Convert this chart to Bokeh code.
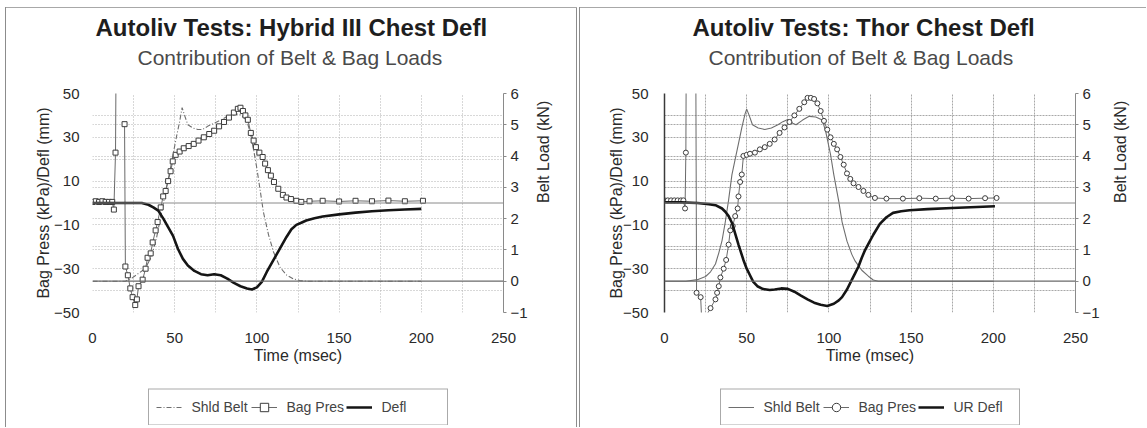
import math
from bokeh.plotting import figure
from bokeh.models import (Range1d, LinearAxis, Legend, LegendItem, Span, Title,
                          Grid, FixedTicker)
from bokeh.layouts import row, column
from bokeh.embed import file_html
from bokeh.resources import INLINE

nan = float("nan")

# ---------------- data ----------------
titles = ["Autoliv Tests: Hybrid III Chest Defl", "Autoliv Tests: Thor Chest Defl"]
subtitle = "Contribution of Belt & Bag Loads"
x_ticks = [0, 50, 100, 150, 200, 250]
left_ticks = [-50, -30, -10, 10, 30, 50]
right_ticks = [-1, 0, 1, 2, 3, 4, 5, 6]
legend_names_L = ["Shld Belt", "Bag Pres", "Defl"]
legend_names_R = ["Shld Belt", "Bag Pres", "UR Defl"]

# Hybrid III (left panel)
tL_belt = [0, 20, 24, 28, 32, 36, 39, 42, 45, 47, 49, 51, 53, 54.5, 56, 58, 61, 64, 67,
           70, 74, 78, 82, 86, 89, 92, 94, 96, 98, 100, 102, 104, 107, 110, 114, 118,
           122, 126, 130, 200]
kL_belt = [0, 0, 0.1, 0.25, 0.4, 0.8, 1.4, 2.2, 3.0, 3.5, 4.05, 4.6, 5.1, 5.55, 5.3,
           5.0, 4.9, 4.85, 4.85, 4.95, 5.05, 5.15, 5.27, 5.32, 5.35, 5.25, 5.1, 4.75,
           4.2, 3.6, 2.9, 2.2, 1.5, 0.95, 0.45, 0.2, 0.08, 0.02, 0, 0]

tL_bag = [0, 2, 4, 6, 8, 10, 12, 13, 14, 14.3, nan, 19.5, 20, 21.5, 23, 24.4, 26, 27,
          28, 30.5, 32.3, 33.5, 35.4, 36.6, 38.4, 39.6, 41.5, 43, 44.5, 46, 47.5, 48.8,
          50.6, 53, 55.5, 58.5, 61.6, 64.5, 67.7, 71, 74, 77, 80, 83, 86, 88.4, 90,
          91.5, 93, 94.5, 96.3, 98, 99.4, 101.5, 103.5, 105, 106.7, 108.5, 110.4, 113,
          115.8, 118, 120.7, 124, 127, 132, 140, 150, 160, 170, 180, 190, 201]
pL_bag = [0.5, 0.8, 0.5, 0.8, 0.5, 0.5, 0.5, -3, 23, 60, nan, 36, -29, -33, -39, -43,
          -46.6, -44, -38, -35, -30, -25, -23, -18, -12.5, -8.7, -2, 3, 5.5, 10, 14.5,
          19, 22, 23.5, 25, 26, 27, 28.5, 30, 31.5, 33, 35, 37, 39, 41.3, 43, 43.5, 42,
          40, 38, 32, 28.5, 25.5, 23, 21, 18, 15, 12.5, 9.6, 6.5, 3.7, 2.5, 1.8, 1,
          0.5, 0.8, 1, 0.7, 1, 0.8, 1.1, 0.8, 1]

tL_defl = [0, 10, 20, 30, 34, 37, 40, 43, 46, 49, 52, 55, 58, 62, 66, 70, 74, 78, 82,
           86, 90, 94, 97, 100, 103, 106, 109, 112, 115, 118, 121, 124, 127, 130, 135,
           140, 150, 160, 170, 180, 190, 200]
dL_defl = [0, 0, 0, 0, -0.8, -2, -3.5, -7, -11, -15, -21, -25.5, -28.5, -31, -32.5,
           -33, -32.5, -33, -34.5, -36.5, -38, -39, -39.5, -38.5, -36, -31.5, -27.5,
           -23.5, -19.5, -15.5, -12, -10, -9, -8, -7, -6.2, -5.2, -4.4, -3.8, -3.3, -3,
           -2.7]

# Thor (right panel)
tR_belt = [0, 13, 20, 25, 28, 31, 33, 35, 37, 39, 41, 43, 45, 47, 49, 50, 51.5, 53.5,
           57, 61, 65, 69, 72, 75, 78, 80, 84, 88, 92, 96, 98, 101, 103, 106, 108, 111,
           114, 116, 120, 124, 127, 130, 200]
kR_belt = [0, 0, 0.05, 0.15, 0.3, 0.55, 0.9, 1.3, 1.9, 2.6, 3.4, 3.9, 4.4, 4.9, 5.35,
           5.5, 5.3, 5.0, 4.9, 4.85, 4.9, 5.0, 5.1, 5.17, 5.05, 5.0, 5.15, 5.27, 5.25,
           5.15, 4.8, 4.05, 3.4, 2.55, 1.9, 1.28, 0.85, 0.64, 0.35, 0.16, 0.04, 0, 0]

tR_bag = [0, 2, 4, 6, 8, 10, 11.5, 12.5, 13, 13.5, 18.8, 19.5, 22, 23, 25, 28, 31, 32,
          33, 34, 36, 37.5, 39, 40, 41.5, 43, 44.5, 45, 46, 47, 48, 50, 52, 55, 58, 61,
          64, 67, 70, 73, 76, 79, 82, 85, 87, 89, 91, 93, 95, 97, 99, 101, 103, 105,
          107, 109, 111, 113, 115, 118, 121, 124, 128, 135, 145, 155, 165, 175, 185,
          195, 202]
pR_bag = [1.2, 1.2, 1.2, 1.2, 1.2, 1.2, 1.2, -2.5, 23, 120, 120, -41, -43, -60, -52,
          -48, -44, -41, -38, -34, -30, -26, -19, -12.5, -10.5, -6, -2.5, 3, 9.6, 13,
          21.5, 22, 22.5, 23, 24.5, 25.5, 27, 29, 32, 34.5, 37, 40, 43, 46, 48, 48,
          47.5, 45.5, 42, 37.5, 33.5, 30, 27, 24.5, 21, 17.5, 13.5, 11, 9, 7.3, 5.5,
          3.7, 2.3, 2, 2, 2.2, 2, 2.2, 2, 2.2, 2.3]

tR_defl = [0, 10, 20, 27, 31, 35, 37, 39, 41, 43, 45, 48, 50, 52, 54, 56.5, 60, 64, 67,
           71, 75, 79, 83, 87, 91, 95, 99, 103, 106, 108, 111, 114, 116, 118, 120, 122,
           124.5, 127, 131, 135, 139, 144, 149, 160, 175, 190, 201]
dR_defl = [0.3, 0.3, 0, -0.5, -1, -2.5, -4, -6, -9, -14, -19, -26, -30, -33, -36, -38,
           -39.3, -39.7, -39.5, -39, -39.2, -40.5, -42.3, -44, -45.5, -46.5, -47, -46,
           -44.5, -43, -39.5, -35, -32, -29, -25, -21.5, -18, -14.5, -9.5, -6.5, -4.5,
           -3.8, -3.3, -2.8, -2.3, -1.8, -1.5]

FONT = "Liberation Sans"
BELT_COLOR = "#6e6e6e"
BAG_LINE = "#6a6a6a"
BAG_EDGE = "#3c3c3c"
DEFL_COLOR = "#151515"


def add_series(p, t_belt, k_belt, t_bag, p_bag, t_defl, d_defl, marker, belt_dash,
               belt_range):
    kw = {"y_range_name": belt_range} if belt_range else {}
    r_belt = p.line(t_belt, k_belt, line_color=BELT_COLOR, line_width=1.1,
                    line_dash=belt_dash, **kw)
    r_bag_l = p.line(t_bag, p_bag, line_color=BAG_LINE, line_width=1)
    r_bag_m = p.scatter(t_bag, p_bag, marker=marker, size=5, line_color=BAG_EDGE,
                        line_width=1, fill_color="white")
    r_defl = p.line(t_defl, d_defl, line_color=DEFL_COLOR, line_width=2.6)
    return r_belt, r_bag_l, r_bag_m, r_defl


def panel(title, series, marker, belt_dash, mb_left, mb_right, left_axis_line,
          grid_dash, grid_color, title_off, sub_off, frame_styles, yl_standoff,
          yl_label_standoff, r_label_standoff):
    p = figure(frame_width=411, frame_height=219, min_border_left=mb_left,
               min_border_right=mb_right, min_border_top=93, min_border_bottom=60,
               x_range=Range1d(0, 250), y_range=Range1d(-50, 50),
               output_backend="svg", toolbar_location=None)
    p.extra_y_ranges = {"belt": Range1d(-1, 6)}
    p.border_fill_alpha = 0
    p.background_fill_color = "white"
    p.outline_line_color = None
    p.styles = {"box-shadow": frame_styles}

    # grids
    p.xgrid.ticker = FixedTicker(ticks=[25, 50, 75, 100, 125, 150, 175, 200, 225, 250])
    p.ygrid.ticker = FixedTicker(ticks=[-40, -30, -20, -10, 10, 20, 30, 40, 50])
    for g in (p.xgrid, p.ygrid):
        g.grid_line_color = grid_color
        g.grid_line_dash = grid_dash
        g.grid_line_width = 1
    g2 = Grid(dimension=1, y_range_name="belt",
              ticker=FixedTicker(ticks=[-1, 1, 2, 3, 4, 5, 6]),
              grid_line_color=grid_color, grid_line_dash=grid_dash, grid_line_width=1)
    p.add_layout(g2)
    p.add_layout(Span(location=0, dimension="width", line_color="#8a8a8a", line_width=1))
    p.add_layout(Span(location=0, dimension="width", y_range_name="belt",
                      line_color="#6a6a6a", line_width=1.3))

    # axes
    xa = p.xaxis[0]
    xa.ticker = FixedTicker(ticks=x_ticks)
    xa.axis_label = "Time (msec)"
    ya = p.yaxis[0]
    ya.ticker = FixedTicker(ticks=left_ticks)
    ya.axis_label = "Bag Press (kPa)/Defl (mm)"
    ra = LinearAxis(y_range_name="belt", ticker=FixedTicker(ticks=right_ticks),
                    axis_label="Belt Load (kN)")
    p.add_layout(ra, "right")
    for ax in (xa, ya, ra):
        ax.major_label_text_font = FONT
        ax.major_label_text_font_size = "15px"
        ax.major_label_text_color = "#2a2a2a"
        ax.axis_label_text_font = FONT
        ax.axis_label_text_font_size = "16px"
        ax.axis_label_text_font_style = "normal"
        ax.axis_label_text_color = "#2a2a2a"
        ax.minor_tick_line_color = None
    xa.axis_line_color = None
    xa.major_tick_line_color = None
    xa.major_label_standoff = 14
    xa.axis_label_standoff = 1
    ya.major_tick_line_color = None
    ya.axis_line_color = left_axis_line
    ya.axis_line_width = 1.5
    ya.major_label_standoff = yl_standoff
    ya.axis_label_standoff = yl_label_standoff
    ra.axis_line_color = "#8a8a8a"
    ra.major_tick_line_color = "#8a8a8a"
    ra.major_tick_out = 3
    ra.major_tick_in = 0
    ra.major_label_standoff = 4
    ra.axis_label_standoff = r_label_standoff
    ra.axis_label_orientation = math.pi / 2

    add_series(p, *series, marker, belt_dash, "belt")

    # titles: spacer (closest to frame), subtitle, main title
    p.add_layout(Title(text=" ", text_font=FONT, text_font_size="10px", standoff=10),
                 "above")
    p.add_layout(Title(text=subtitle, align="left", offset=sub_off,
                       text_font=FONT, text_font_size="21px", text_font_style="normal",
                       text_color="#4a4a4a", standoff=3), "above")
    p.add_layout(Title(text=title, align="left", offset=title_off,
                       text_font=FONT, text_font_size="24px", text_font_style="bold",
                       text_color="#1e1e1e", standoff=3), "above")
    return p


def legend_strip(names, series, marker, belt_dash, mb_left, mb_right, styles):
    # the same series, drawn far outside this strip's view, only feed the legend
    lf = figure(frame_width=411, frame_height=37, min_border_left=mb_left,
                min_border_right=mb_right, min_border_top=16, min_border_bottom=2,
                x_range=Range1d(0, 250), y_range=Range1d(1000, 1001),
                output_backend="svg", toolbar_location=None)
    lf.axis.visible = False
    lf.grid.visible = False
    lf.outline_line_color = None
    lf.border_fill_alpha = 0
    lf.background_fill_alpha = 0
    lf.styles = {"box-shadow": styles}
    r_belt, r_bag_l, r_bag_m, r_defl = add_series(lf, *series, marker, belt_dash, None)
    legend = Legend(items=[LegendItem(label=names[0], renderers=[r_belt]),
                           LegendItem(label=names[1], renderers=[r_bag_l, r_bag_m]),
                           LegendItem(label=names[2], renderers=[r_defl])],
                    location="center", orientation="horizontal",
                    label_text_font=FONT, label_text_font_size="14px",
                    label_text_color="#444444", glyph_width=26, glyph_height=21,
                    label_height=21, label_standoff=10, label_width=58, spacing=1,
                    padding=7, margin=0, border_line_color="#555555",
                    border_line_width=1, background_fill_color="white",
                    background_fill_alpha=1)
    lf.add_layout(legend, "center")
    return lf


shadow_L = ("inset 5px 0 0 0 #ffffff, inset 0 7px 0 0 #ffffff, "
            "inset 6px 0 0 0 #8c8c8c, inset 0 8px 0 0 #a8a8a8, inset -1px 0 0 0 #8c8c8c")
shadow_R = ("inset 2px 0 0 0 #ffffff, inset 0 7px 0 0 #ffffff, "
            "inset 3px 0 0 0 #8c8c8c, inset 0 8px 0 0 #a8a8a8")
shadow_L2 = "inset 5px 0 0 0 #ffffff, inset 6px 0 0 0 #8c8c8c, inset -1px 0 0 0 #8c8c8c"
shadow_R2 = "inset 2px 0 0 0 #ffffff, inset 3px 0 0 0 #8c8c8c"

seriesL = (tL_belt, kL_belt, tL_bag, pL_bag, tL_defl, dL_defl)
seriesR = (tR_belt, kR_belt, tR_bag, pR_bag, tR_defl, dR_defl)

pL = panel(titles[0], seriesL, "square", "5 2 1 2", 92, 74, None, "1 2", "#b0b0b0",
           3, 45, shadow_L, 7, -1, 13)
pR = panel(titles[1], seriesR, "circle", "solid", 87, 71, "#3a3a3a", "2 1", "#a8a8a8",
           28, 44, shadow_R, 10, -5, 18)
lL = legend_strip(legend_names_L, seriesL, "square", "5 2 1 2", 92, 74, shadow_L2)
lR = legend_strip(legend_names_R, seriesR, "circle", "solid", 87, 71, shadow_R2)

layout = row(column(pL, lL, spacing=0), column(pR, lR, spacing=0), spacing=0)
open("out.html", "w").write(file_html(layout, INLINE))
